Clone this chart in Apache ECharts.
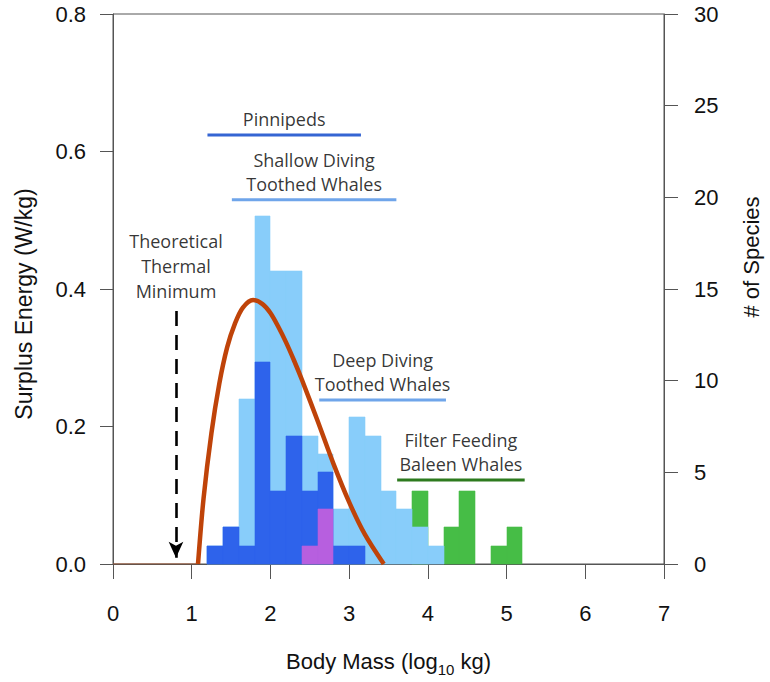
<!DOCTYPE html>
<html>
<head>
<meta charset="utf-8">
<script src="https://cdn.jsdelivr.net/npm/echarts@6/dist/echarts.min.js"></script>
<style>html,body{margin:0;padding:0;background:#fff}#c{width:770px;height:682px}</style>
</head>
<body>
<div id="c"></div>
<script>
// ---- data ----
const binStarts   = [1.2,1.4,1.6,1.8,2.0,2.2,2.4,2.6,2.8,3.0,3.2,3.4,3.6,3.8,4.0,4.2,4.4,4.6,4.8,5.0];
const binWidth    = 0.2;
const lightBlue   = [1,2,9,19,16,16,7,6,3,8,7,4,3,2,1,0,0,0,0,0];
const darkBlue    = [1,2,1,11,4,7,4,5,1,1,0,0,0,0,0,0,0,0,0,0];
const purple      = [0,0,0,0,0,0,1,3,0,0,0,0,0,0,0,0,0,0,0,0];
const green       = [0,0,0,0,0,0,0,0,0,0,0,0,0,4,0,2,4,0,1,2];
const curveX      = [1.08,1.15,1.25,1.35,1.45,1.55,1.65,1.78,1.9,2.0,2.1,2.2,2.3,2.4,2.6,2.8,3.0,3.2,3.44];
const curveY      = [0,0.095,0.19,0.262,0.315,0.35,0.373,0.384,0.378,0.365,0.345,0.322,0.296,0.268,0.208,0.146,0.09,0.043,0];
const groupNames  = ['Pinnipeds','Shallow Diving\nToothed Whales','Deep Diving\nToothed Whales','Filter Feeding\nBaleen Whales'];
const groupMin    = [1.2,1.51,2.62,3.61];
const groupMax    = [3.15,3.6,4.23,5.23];
const thermalMin  = 0.8;
const xTicks = [0,1,2,3,4,5,6,7];
const leftTicks = [0,0.2,0.4,0.6,0.8];
const rightTicks = [0,5,10,15,20,25,30];

// ---- layout / style ----
const groupLevel  = [0.624,0.530,0.2387,0.1223];
const groupColors = ['#3565d3','#6fa5ea','#6fa5ea','#2d7a1e'];
const arrowTop = 0.368, arrowTip = 0.009;
const AX = 'Liberation Sans', AN = 'Open Sans';
const axisColor = '#555';

function bars(vals, color, name){
  return {
    type:'custom', name, yAxisIndex:1, z:2,
    data: binStarts.map((b,i)=>[b, vals[i]]),
    encode:{x:0,y:1},
    renderItem:function(params, api){
      const x0 = api.value(0), h = api.value(1);
      if(!h) return null;
      const p0 = api.coord([x0,0]);
      const p1 = api.coord([x0+binWidth,h]);
      const xa = Math.round(p0[0]), xb = Math.round(p1[0]);
      const ya = Math.round(p1[1]), yb = Math.round(p0[1]);
      return {type:'rect', shape:{x:xa, y:ya, width:xb-xa, height:yb-ya},
        style:{fill:color, stroke:color, lineWidth:0.6}};
    }
  };
}

const series = [
  bars(green,'#46bd46','green'),
  bars(lightBlue,'#88cdfa','light'),
  bars(darkBlue,'#2e63eb','dark'),
  bars(purple,'#b75fdf','purple'),
  {type:'line', yAxisIndex:0, z:5, symbol:'none', silent:true,
   data:[[xTicks[0],0],[curveX[0],0]], lineStyle:{color:'#a0522d',width:1.2}},
  {type:'line', yAxisIndex:0, z:5, symbol:'none', smooth:0.3,
   data: curveX.map((x,i)=>[x,curveY[i]]), lineStyle:{color:'#bf4309',width:4.5}},
  {type:'line', yAxisIndex:0, z:4, symbol:'none', data:[],
   markLine:{silent:true, symbol:['none','arrow'], symbolSize:[11,16], label:{show:false},
     lineStyle:{color:'#000',width:2.6,type:[15,9]},
     data:[[{coord:[thermalMin,arrowTop]},{coord:[thermalMin,arrowTip]}]]}},
  {type:'scatter', yAxisIndex:0, z:6, symbolSize:0,
   data:[[thermalMin,arrowTop]],
   label:{show:true, position:'top', distance:8, formatter:'Theoretical\nThermal\nMinimum',
     fontFamily:AN, fontSize:18, lineHeight:25, color:'#000', align:'center'}}
];
groupNames.forEach((n,i)=>{
  series.push({type:'line', yAxisIndex:0, z:4, symbol:'none',
    data:[[groupMin[i],groupLevel[i]],[groupMax[i],groupLevel[i]]],
    lineStyle:{color:groupColors[i],width:3}});
  series.push({type:'scatter', yAxisIndex:0, z:6, symbolSize:0,
    data:[[(groupMin[i]+groupMax[i])/2, groupLevel[i]]],
    label:{show:true, position:'top', distance:4, formatter:n,
      fontFamily:AN, fontSize:18, lineHeight:24, color:'#000', align:'center'}});
});

const chart = echarts.init(document.getElementById('c'), null, {renderer:'svg'});
chart.setOption({
  animation:false,
  backgroundColor:'#fff',
  grid:{left:113, right:102, top:14, bottom:114, show:true, borderColor:axisColor, borderWidth:1, backgroundColor:'transparent'},
  xAxis:{type:'value', min:xTicks[0], max:xTicks[xTicks.length-1], interval:1,
    splitLine:{show:false},
    axisLine:{show:true, lineStyle:{color:axisColor,width:1}},
    axisTick:{show:true, inside:false, length:15, lineStyle:{color:axisColor}},
    axisLabel:{fontFamily:AX, fontSize:22, color:'#111', margin:38},
    name:'{a|Body Mass (log}{s|10}{a| kg)}', nameLocation:'middle', nameGap:86,
    nameTextStyle:{rich:{
      a:{fontFamily:AX, fontSize:22, color:'#111', verticalAlign:'bottom'},
      s:{fontFamily:AX, fontSize:15, color:'#111', verticalAlign:'bottom', padding:[0,0,-5,0]}}}
  },
  yAxis:[
    {type:'value', position:'left', min:leftTicks[0], max:leftTicks[leftTicks.length-1], interval:0.2,
     splitLine:{show:false},
     axisLine:{show:true, lineStyle:{color:axisColor,width:1}},
     axisTick:{show:true, inside:false, length:13, lineStyle:{color:axisColor}},
     axisLabel:{fontFamily:AX, fontSize:22, color:'#111', margin:27, formatter:v=>v.toFixed(1)},
     name:'Surplus Energy (W/kg)', nameLocation:'middle', nameGap:78, nameRotate:90,
     nameTextStyle:{fontFamily:AX, fontSize:23, color:'#111', padding:[0,30,0,0]}},
    {type:'value', position:'right', min:rightTicks[0], max:rightTicks[rightTicks.length-1], interval:5,
     splitLine:{show:false},
     axisLine:{show:true, lineStyle:{color:axisColor,width:1}},
     axisTick:{show:true, inside:false, length:14, lineStyle:{color:axisColor}},
     axisLabel:{fontFamily:AX, fontSize:22, color:'#111', margin:30},
     name:'# of Species', nameLocation:'middle', nameGap:76, nameRotate:90,
     nameTextStyle:{fontFamily:AX, fontSize:22, color:'#111', padding:[0,0,0,64]}}
  ],
  series
});
</script>
</body>
</html>
